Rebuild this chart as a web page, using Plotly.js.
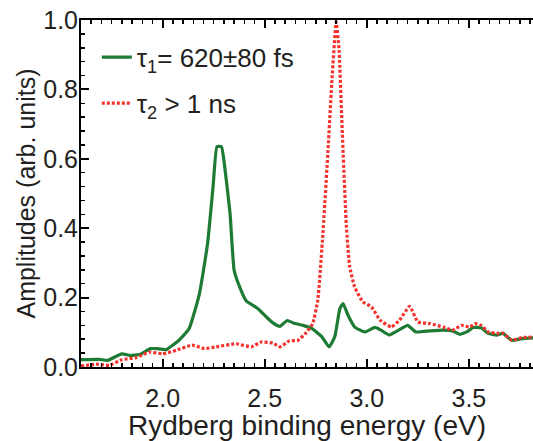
<!DOCTYPE html>
<html>
<head>
<meta charset="utf-8">
<script src="https://cdn.plot.ly/plotly-3.0.1.min.js"></script>
<style>html,body{margin:0;padding:0;background:#fff;}#plot{width:533px;height:441px;}</style>
</head>
<body>
<div id="plot"></div>
<script>
// Green trace: tau1 = 620±80 fs
const energy1 = [1.60,1.69,1.73,1.80,1.84,1.888,1.94,1.97,2.017,2.08,2.13,2.18,2.22,2.247,2.266,2.288,2.30,2.33,2.35,2.377,2.41,2.467,2.508,2.54,2.574,2.61,2.64,2.688,2.73,2.78,2.815,2.843,2.868,2.884,2.908,2.941,2.99,3.04,3.07,3.11,3.15,3.20,3.24,3.31,3.374,3.42,3.456,3.49,3.52,3.56,3.594,3.636,3.667,3.71,3.762,3.82];
const amp1 = [0.021,0.022,0.019,0.038,0.033,0.036,0.053,0.053,0.050,0.077,0.111,0.211,0.356,0.52,0.635,0.635,0.596,0.443,0.279,0.231,0.19,0.168,0.144,0.127,0.117,0.134,0.127,0.120,0.111,0.087,0.058,0.087,0.168,0.183,0.149,0.115,0.101,0.114,0.106,0.092,0.104,0.120,0.101,0.104,0.106,0.104,0.094,0.101,0.114,0.113,0.097,0.092,0.097,0.077,0.082,0.084];
// Red trace: tau2 > 1 ns
const energy2 = [1.60,1.675,1.74,1.80,1.87,1.935,2.0,2.066,2.144,2.205,2.262,2.36,2.434,2.483,2.54,2.574,2.62,2.663,2.70,2.735,2.76,2.785,2.81,2.83,2.85,2.864,2.88,2.90,2.916,2.94,2.98,3.023,3.065,3.12,3.16,3.21,3.25,3.31,3.374,3.42,3.464,3.505,3.53,3.56,3.594,3.636,3.667,3.71,3.76,3.82];
const amp2 = [0.003,0.008,0.005,0.021,0.027,0.043,0.038,0.048,0.063,0.053,0.058,0.067,0.058,0.072,0.069,0.058,0.075,0.077,0.097,0.125,0.193,0.385,0.625,0.836,0.995,0.913,0.673,0.404,0.289,0.231,0.188,0.173,0.135,0.115,0.135,0.175,0.130,0.125,0.115,0.106,0.120,0.115,0.125,0.120,0.101,0.097,0.097,0.077,0.085,0.086];
const xTickVals = [2.0,2.5,3.0,3.5];
const xTickText = ['2.0','2.5','3.0','3.5'];
const yTickVals = [0,0.2,0.4,0.6,0.8,1.0];
const yTickText = ['0.0','0.2','0.4','0.6','0.8','1.0'];
const name1 = 'τ<sub>1</sub>= 620±80 fs';
const name2 = 'τ<sub>2</sub> > 1 ns';

const textColor = '#231f20';
const traces = [
  {x: energy1, y: amp1, name: name1, mode: 'lines', legend: 'legend',
   line: {color: '#1e7b34', width: 3.2, shape: 'spline', smoothing: 0.4}},
  {x: energy2, y: amp2, name: name2, mode: 'lines', legend: 'legend2',
   line: {color: '#f5332e', width: 3.2, dash: '3px,2px', shape: 'spline', smoothing: 0.4}}
];
const axisCommon = {
  showline: true, linecolor: '#000', linewidth: 2, showgrid: false, zeroline: false,
  ticks: 'inside', tickcolor: '#000', tickwidth: 2, ticklen: 8,
  tickfont: {family: 'Liberation Sans, Arial, sans-serif', size: 25, color: textColor}
};
const legendCommon = {xanchor: 'left', yanchor: 'middle', bgcolor: 'rgba(0,0,0,0)',
  font: {size: 26, color: textColor}, itemwidth: 30, borderwidth: 0};
const layout = {
  width: 533, height: 441,
  margin: {l: 81, r: 0, t: 20, b: 74},
  paper_bgcolor: '#fff', plot_bgcolor: '#fff',
  font: {family: 'Liberation Sans, Arial, sans-serif', color: textColor},
  xaxis: Object.assign({}, axisCommon, {
    range: [1.6, 3.814], tickvals: xTickVals, ticktext: xTickText, mirror: 'ticks',
    ticklabelstandoff: 8,
    minor: {ticks: 'inside', dtick: 0.05, tick0: 2.0, ticklen: 4, tickwidth: 1.5, tickcolor: '#000'},
    title: {text: 'Rydberg binding energy (eV)', font: {size: 28, color: textColor}, standoff: 6}
  }),
  yaxis: Object.assign({}, axisCommon, {
    range: [0, 1.0], tickvals: yTickVals, ticktext: yTickText,
    ticklabelstandoff: -4,
    minor: {ticks: 'inside', dtick: 0.04, tick0: 0, ticklen: 4, tickwidth: 1.5, tickcolor: '#000'},
    title: {text: 'Amplitudes (arb. units)', font: {size: 25, color: textColor}, standoff: 0}
  }),
  showlegend: true,
  legend: Object.assign({}, legendCommon, {x: 0.035, y: 0.893}),
  legend2: Object.assign({}, legendCommon, {x: 0.035, y: 0.76})
};
Plotly.newPlot('plot', traces, layout, {displayModeBar: false, staticPlot: true});
</script>
</body>
</html>
